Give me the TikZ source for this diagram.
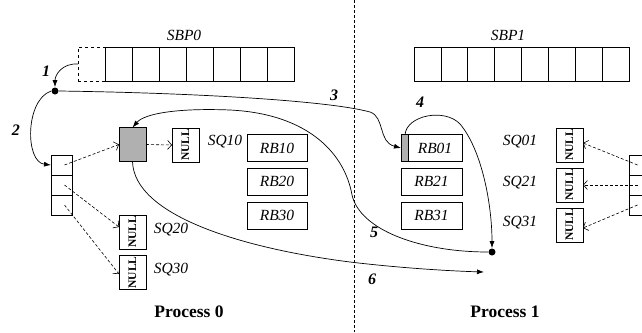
\documentclass[tikz,border=0pt]{standalone}
\usepackage{fontspec}
\setmainfont{Liberation Serif}
\usetikzlibrary{arrows.meta}
\definecolor{boxgray}{HTML}{B0B0B0}
\begin{document}
\begin{tikzpicture}[x=1pt, y=-1pt, line width=0.8pt,
  cell/.style={draw, minimum width=27pt, minimum height=34pt, inner sep=0pt, outer sep=0pt},
  slot/.style={draw, minimum width=21pt, minimum height=20pt, inner sep=0pt, outer sep=0pt},
  nullbox/.style={draw, minimum width=27pt, minimum height=34pt, inner sep=0pt, outer sep=0pt,
    font=\fontsize{11.5}{13}\selectfont\bfseries},
  rbox/.style={draw, minimum width=60pt, minimum height=27pt, inner sep=0pt, outer sep=0pt,
    font=\fontsize{15.5}{17}\selectfont\itshape},
  lbl/.style={font=\fontsize{15.5}{17}\selectfont\itshape, inner sep=0pt},
  num/.style={font=\fontsize{16}{18}\selectfont\bfseries\itshape, inner sep=0pt},
  proc/.style={font=\fontsize{17.5}{19}\selectfont\bfseries, inner sep=0pt},
  dot/.style={circle, fill=black, inner sep=0pt, minimum size=7pt},
  flow/.style={line width=0.7pt, -{Latex[length=7pt,width=5pt]}},
  ptr/.style={line width=0.6pt, dash pattern=on 3pt off 2pt, -{Straight Barb[length=4pt,width=9pt]}}]
\clip (0,0) rectangle (642,332);

% process boundary
\draw[line width=0.7pt, dash pattern=on 3pt off 2pt] (354,0) -- (354,332);

% send buffer pools
\node[lbl] (sbp0) at (184,35) {SBP0};
\node[cell, dashed] (p0d) at (91.5,64) {};
\foreach \i in {0,...,6} \node[cell] (p0c\i) at ({118.5+27*\i},64) {};
\node[lbl] (sbp1) at (508,35) {SBP1};
\foreach \i in {0,...,7} \node[cell, minimum width=26.9pt] (p1c\i) at ({427.45+26.9*\i},64) {};

% slot tables
\foreach \i/\y in {1/165,2/185,3/205} {
  \node[slot] (ls\i) at (61.5,\y) {};
  \node[slot] (rs\i) at (639.5,\y) {};
}

% process 0 queues
\node[cell, fill=boxgray] (gray) at (132.5,144.5) {};
\node[nullbox] (sq10) at (185.5,145) {\rotatebox{90}{NULL}};
\node[lbl] (sq10l) at (225,142) {SQ10};
\node[nullbox] (sq20) at (132.5,232) {\rotatebox{90}{NULL}};
\node[lbl] (sq20l) at (171,230) {SQ20};
\node[nullbox] (sq30) at (132.5,272.5) {\rotatebox{90}{NULL}};
\node[lbl] (sq30l) at (171,270) {SQ30};
\node[rbox] (rb10) at (277,148) {RB10};
\node[rbox] (rb20) at (277,181.5) {RB20};
\node[rbox] (rb30) at (277,215.5) {RB30};

% process 1 queues
\node[rbox, minimum width=61pt] (rb01) at (431.5,148) {\hspace{7pt}RB01};
\fill[boxgray] (rb01.north west) rectangle ([xshift=7pt]rb01.south west);
\draw (rb01.north west) rectangle (rb01.south east);
\draw ([xshift=7pt]rb01.north west) -- ([xshift=7pt]rb01.south west);
\node[rbox, minimum width=61pt] (rb21) at (431.5,181.5) {RB21};
\node[rbox, minimum width=61pt] (rb31) at (431.5,215.5) {RB31};
\node[lbl] (sq01l) at (520,142) {SQ01};
\node[lbl] (sq21l) at (520,183) {SQ21};
\node[lbl] (sq31l) at (520,223) {SQ31};
\node[nullbox] (sq01) at (569.5,145) {\rotatebox{90}{NULL}};
\node[nullbox] (sq21) at (569.5,185) {\rotatebox{90}{NULL}};
\node[nullbox] (sq31) at (569.5,225) {\rotatebox{90}{NULL}};

% queue pointers
\draw[ptr] ([xshift=3pt]ls1.center) -- (gray.west);
\draw[ptr] ([xshift=3pt]ls2.center) -- ([yshift=5pt]sq20.west);
\draw[ptr] ([xshift=3pt]ls3.center) -- ([yshift=-1.5pt]sq30.west);
\draw[ptr] (gray.east) -- (sq10.west);
\draw[ptr] ([xshift=-2pt]rs1.center) -- ([yshift=2pt]sq01.east);
\draw[ptr] ([xshift=-2pt]rs2.center) -- (sq21.east);
\draw[ptr] ([xshift=-2pt]rs3.center) -- ([yshift=-3pt]sq31.east);

% junction points
\node[dot] (d1) at (55,91) {};
\node[dot] (d2) at (492,252) {};
\coordinate (end6) at (484,272);

% numbered steps
\draw[flow] (p0d.west) .. controls (62,63) and (55,75) .. (d1.north);
\draw[flow] (d1.west) .. controls (25,100) and (25,162) .. (ls1.west);
\draw[flow] (d1.east) .. controls (200,93) and (330,101) .. (370,112)
  .. controls (385,117) and (378,142) .. (rb01.west);
\draw[flow] ([xshift=4pt]rb01.north west) .. controls (407,115) and (445,108) .. (460,124)
  .. controls (482,150) and (492,205) .. (d2.north);
\draw[flow] (d2.west) .. controls (420,252) and (360,230) .. (352,195)
  .. controls (345,155) and (310,114) .. (230,110)
  .. controls (180,108) and (145,113) .. (gray.north);
\draw[flow] (gray.south) .. controls (134,215) and (240,248) .. (350,262)
  .. controls (400,268) and (450,271) .. (end6);

\node[num] (n1) at (46,71) {1};
\node[num] (n2) at (16,130) {2};
\node[num] (n3) at (334,95) {3};
\node[num] (n4) at (420,102) {4};
\node[num] (n5) at (374,232) {5};
\node[num] (n6) at (372,279) {6};

\node[proc] (pr0) at (189,312) {Process 0};
\node[proc] (pr1) at (505,312) {Process 1};
\end{tikzpicture}
\end{document}
